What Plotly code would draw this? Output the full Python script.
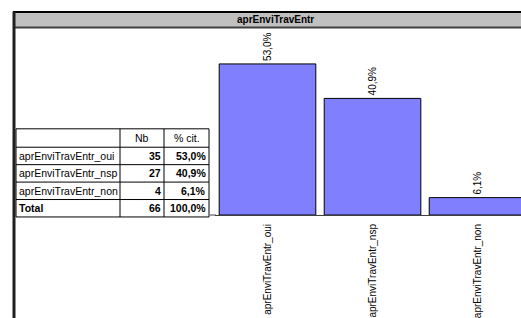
import plotly.graph_objects as go

# ---- data ----
title = "aprEnviTravEntr"
categories = ["aprEnviTravEntr_oui", "aprEnviTravEntr_nsp", "aprEnviTravEntr_non"]
counts = [35, 27, 4]
percents = [53.0, 40.9, 6.1]
total_count = 66
total_pct = 100.0
header = ["", "Nb", "% cit."]
total_label = "Total"

W, H = 521, 318


def X(px):
    return px / W


def Y(py):
    return 1 - py / H


def fmt_pct(v):
    return f"{v:.1f}%".replace(".", ",")


FONT = "Liberation Sans, Arial, sans-serif"

fig = go.Figure()
fig.add_trace(go.Bar(
    x=categories,
    y=percents,
    marker=dict(color="#8080FF", line=dict(color="#000000", width=1)),
    text=[fmt_pct(v) for v in percents],
    textposition="outside",
    textangle=-90,
    textfont=dict(family=FONT, size=10, color="#000000"),
    cliponaxis=False,
    hoverinfo="skip",
))

shapes = []
annotations = []

# title bar
shapes.append(dict(type="rect", xref="paper", yref="paper", x0=X(14), x1=X(540), y0=Y(29), y1=Y(12),
                   fillcolor="#C0C0C0", line=dict(width=0), layer="below"))
shapes.append(dict(type="line", xref="paper", yref="paper", x0=X(13), x1=X(540), y0=Y(12.5), y1=Y(12.5),
                   line=dict(color="#000000", width=2)))
shapes.append(dict(type="line", xref="paper", yref="paper", x0=X(13), x1=X(540), y0=Y(28.5), y1=Y(28.5),
                   line=dict(color="#404040", width=2)))
annotations.append(dict(xref="paper", yref="paper", x=X(275), y=Y(20.5), text=f"<b>{title}</b>",
                        showarrow=False, xanchor="center", yanchor="middle",
                        font=dict(family=FONT, size=10, color="#000000")))
# left frame line
shapes.append(dict(type="line", xref="paper", yref="paper", x0=X(14), x1=X(14), y0=Y(12), y1=Y(330),
                   line=dict(color="#202020", width=3)))

# baseline stub left of axis
shapes.append(dict(type="line", xref="paper", yref="paper", x0=X(210), x1=X(216), y0=Y(222), y1=Y(222),
                   line=dict(color="#404040", width=1)))

# ---- table ----
col_x = [16, 120, 164, 209]
row_y = [133, 152, 170, 188, 206, 224]
for xv in col_x:
    shapes.append(dict(type="line", xref="paper", yref="paper", x0=X(xv), x1=X(xv), y0=Y(row_y[0]), y1=Y(row_y[-1]),
                       line=dict(color="#000000", width=1)))
for yv in row_y:
    shapes.append(dict(type="line", xref="paper", yref="paper", x0=X(col_x[0]), x1=X(col_x[-1]), y0=Y(yv), y1=Y(yv),
                       line=dict(color="#000000", width=1)))


def cell(text, col, row, align):
    yc = (row_y[row] + row_y[row + 1]) / 2
    if align == "left":
        x, xa = col_x[col] + 1, "left"
    elif align == "right":
        x, xa = col_x[col + 1] - 1, "right"
    else:
        x, xa = (col_x[col] + col_x[col + 1]) / 2, "center"
    annotations.append(dict(xref="paper", yref="paper", x=X(x), y=Y(yc), text=text, showarrow=False,
                            xanchor=xa, yanchor="middle",
                            font=dict(family=FONT, size=10.5, color="#000000")))


cell(header[1], 1, 0, "center")
cell(header[2], 2, 0, "center")
for i, (c, n, p) in enumerate(zip(categories, counts, percents)):
    cell(c, 0, i + 1, "left")
    cell(f"<b>{n}</b>", 1, i + 1, "right")
    cell(f"<b>{fmt_pct(p)}</b>", 2, i + 1, "right")
cell(f"<b>{total_label}</b>", 0, 4, "left")
cell(f"<b>{total_count}</b>", 1, 4, "right")
cell(f"<b>{fmt_pct(total_pct)}</b>", 2, 4, "right")

fig.update_layout(
    width=W, height=H, autosize=False,
    margin=dict(l=0, r=0, t=0, b=0),
    paper_bgcolor="#FFFFFF", plot_bgcolor="#FFFFFF",
    showlegend=False,
    bargap=0.08,
    shapes=shapes,
    annotations=annotations,
    xaxis=dict(domain=[X(215), 1], range=[-0.5, 2.414], showline=True, linecolor="#404040", linewidth=1,
               ticks="outside", ticklen=4, tickcolor="rgba(0,0,0,0)", showgrid=False, tickangle=-90,
               zeroline=False, tickfont=dict(family=FONT, size=10, color="#000000")),
    yaxis=dict(domain=[Y(222), Y(30)], range=[0, 65.23], visible=False, showgrid=False, zeroline=False),
    font=dict(family=FONT),
)

fig.write_html(
    "out.html",
    config={"displayModeBar": False, "staticPlot": True},
    post_script="document.body.style.margin='0';document.body.style.overflow='hidden';",
)
